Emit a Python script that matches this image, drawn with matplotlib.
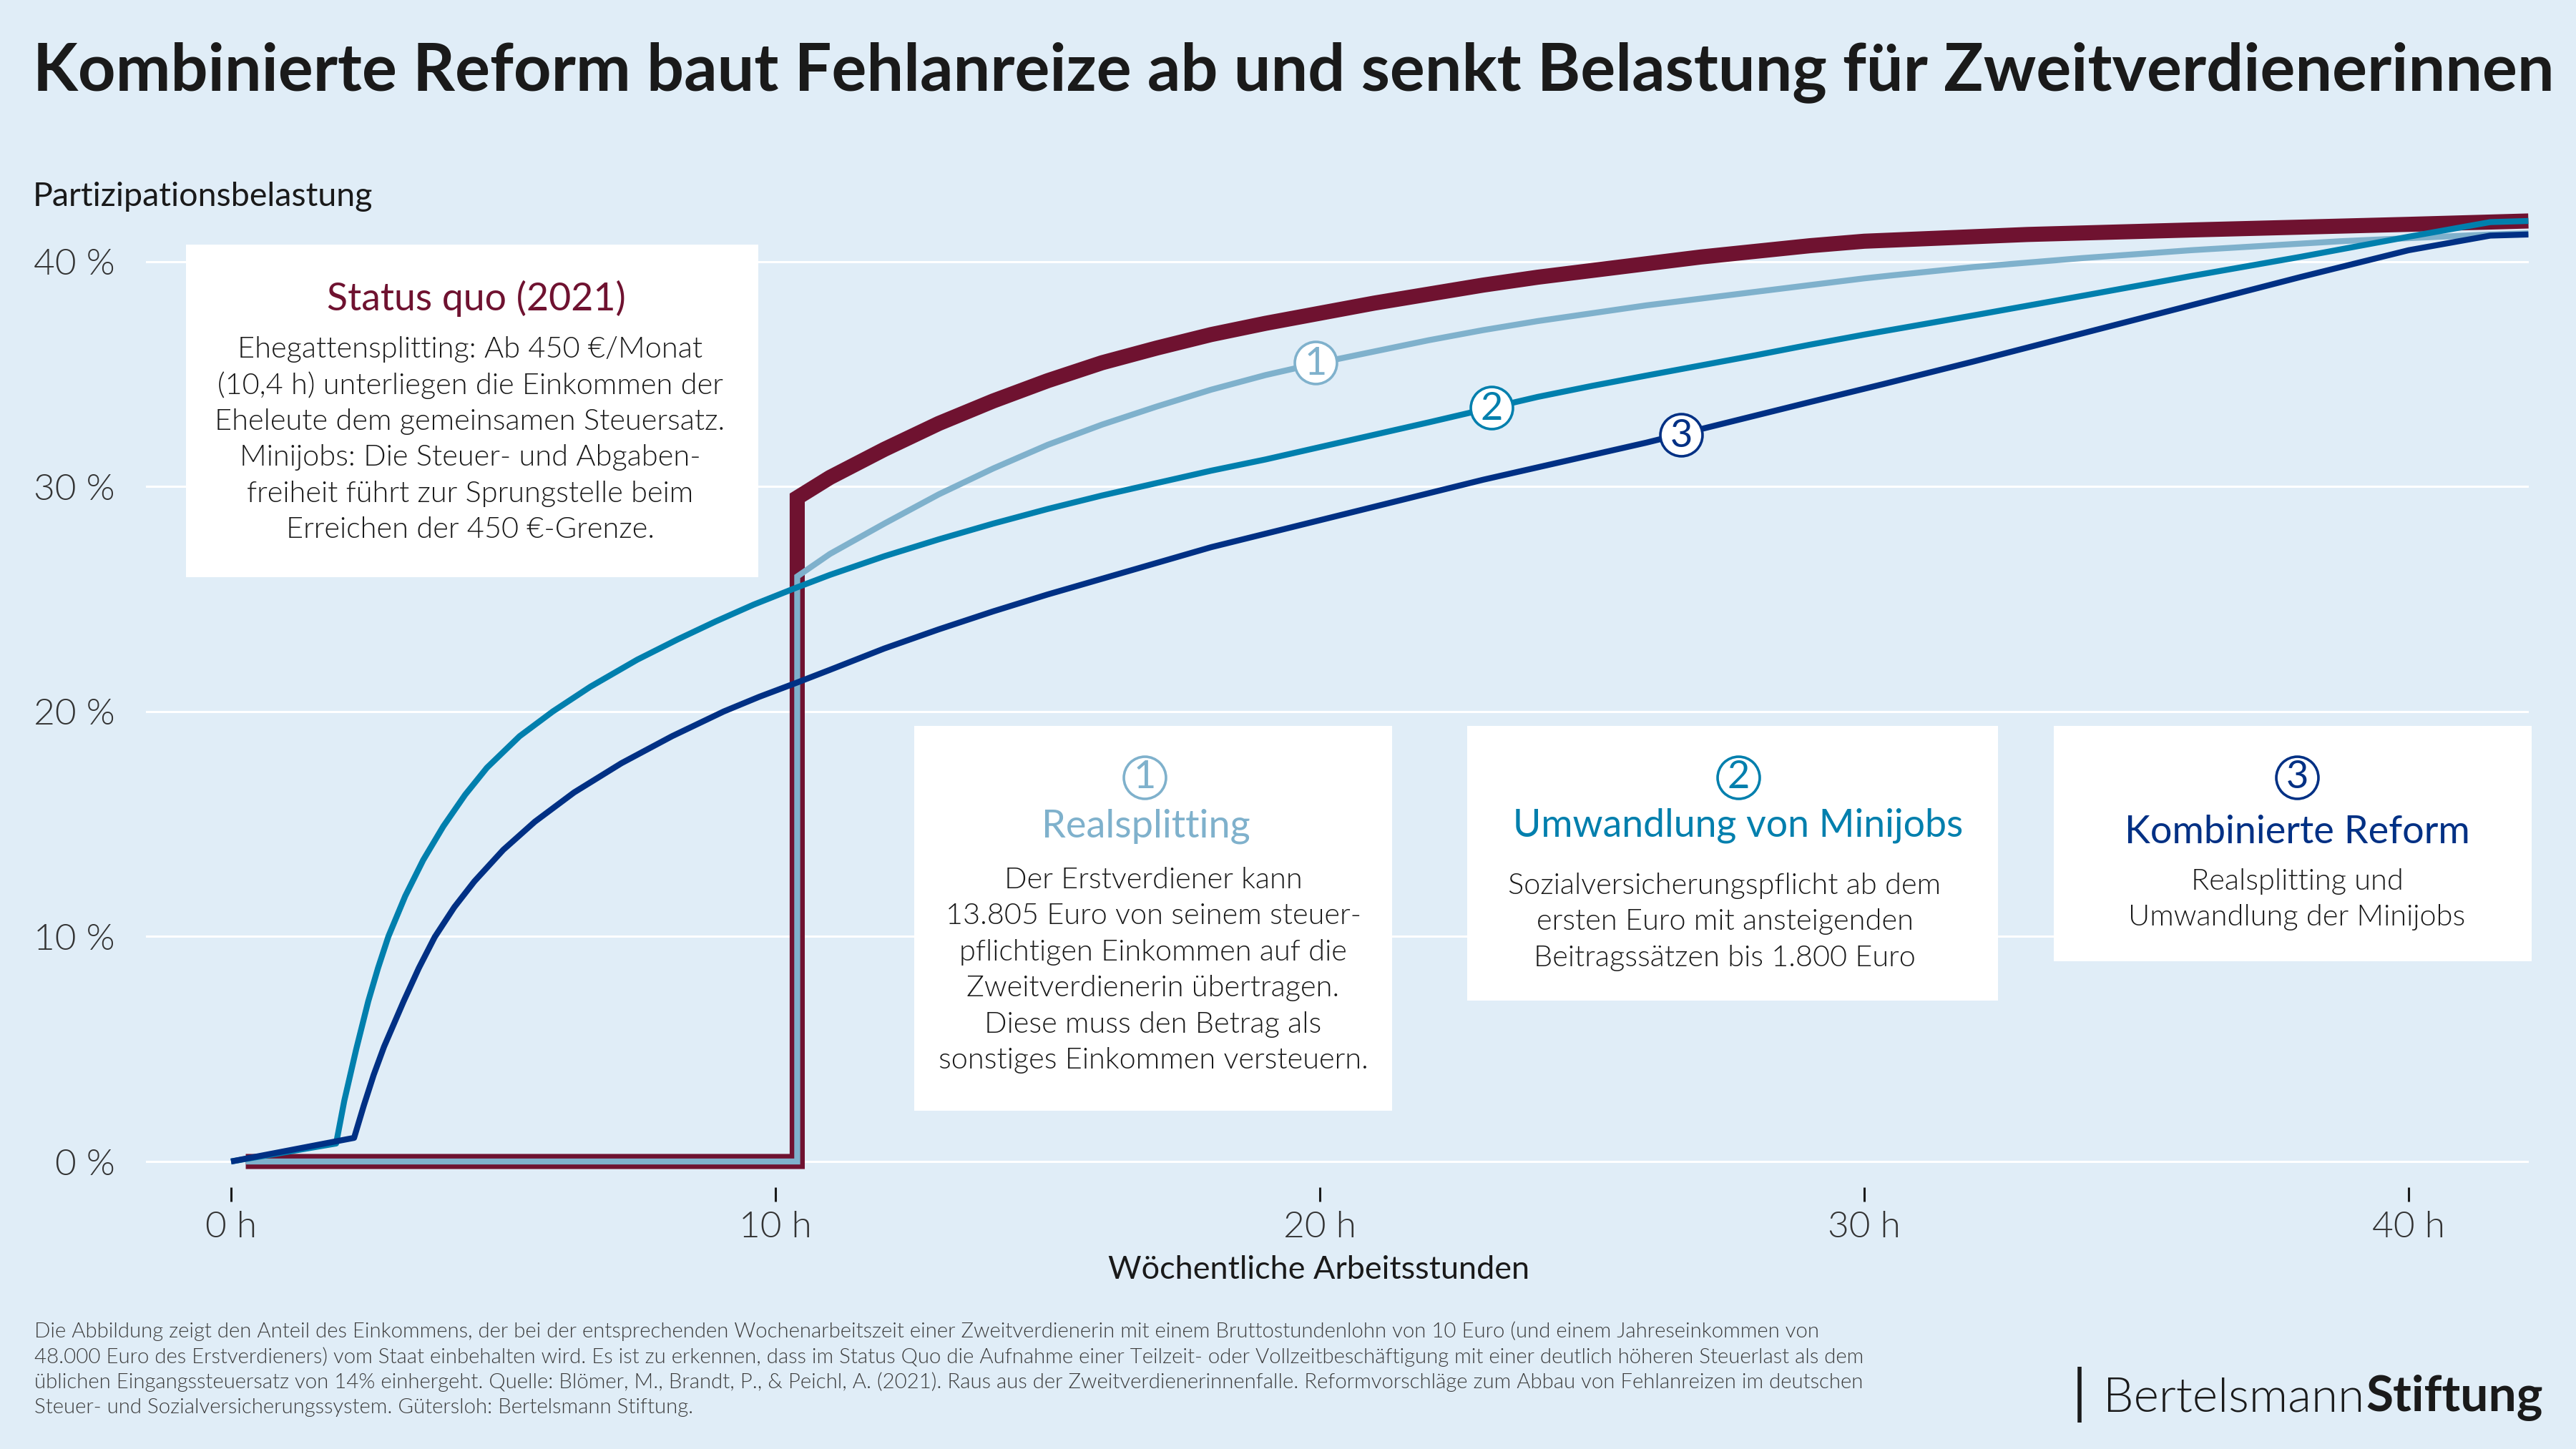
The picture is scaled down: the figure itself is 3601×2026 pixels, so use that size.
import matplotlib
matplotlib.use("Agg")
import matplotlib.pyplot as plt
from matplotlib.patches import Rectangle

plt.rcParams['font.family'] = ['Lato', 'DejaVu Sans']

BG = '#e0edf7'
MAROON = '#6f1230'
LIGHT = '#7fb1cc'
TEAL = '#007fad'
NAVY = '#003084'
DARK = '#1a1a1a'

# hours, percent
quo_x = [0.27, 10.4, 10.4, 11, 12, 13, 14, 15, 16, 17, 18, 19, 20, 21, 22, 23, 24, 25, 26, 27, 28, 29, 30, 31, 33, 36, 40, 42.2]
quo_y = [0.0, 0.0, 29.5, 30.4, 31.65, 32.8, 33.8, 34.7, 35.5, 36.15, 36.75, 37.25, 37.7, 38.15, 38.55, 38.95, 39.3, 39.6, 39.9, 40.2, 40.45, 40.7, 40.9, 41.0, 41.2, 41.4, 41.65, 41.8]

real_x = [0.27, 10.4, 10.4, 11, 12, 13, 14, 15, 16, 17, 18, 19, 20, 21, 22, 23, 24, 25, 26, 27, 28, 29, 30, 30.5, 32, 34, 36, 38.75, 41.5, 42.2]
real_y = [0.0, 0.0, 26.0, 27.0, 28.35, 29.65, 30.8, 31.85, 32.75, 33.55, 34.3, 34.95, 35.5, 36.0, 36.5, 36.95, 37.35, 37.7, 38.05, 38.35, 38.65, 38.95, 39.25, 39.38, 39.75, 40.15, 40.5, 40.9, 41.2, 41.25]

mini_x = [0.0, 1.93, 2.08, 2.3, 2.52, 2.7, 2.89, 3.2, 3.53, 3.9, 4.3, 4.7, 5.3, 5.91, 6.6, 7.46, 8.2, 8.9, 9.6, 10.38, 11, 12, 13, 14, 15, 16, 17, 18, 19, 20, 21, 22, 23.15, 24, 25, 26, 27, 28, 29, 30, 32, 34, 36, 38, 40, 41.5, 42.2]
mini_y = [0.0, 0.8, 2.7, 5.0, 7.12, 8.6, 10.0, 11.8, 13.4, 14.9, 16.3, 17.5, 18.9, 20.0, 21.1, 22.3, 23.2, 24.0, 24.75, 25.5, 26.07, 26.9, 27.65, 28.35, 29.0, 29.6, 30.15, 30.7, 31.2, 31.75, 32.3, 32.85, 33.5, 33.98, 34.47, 34.93, 35.38, 35.83, 36.3, 36.75, 37.6, 38.47, 39.35, 40.2, 41.1, 41.75, 41.8]

komb_x = [0.0, 2.26, 2.44, 2.62, 2.81, 3.17, 3.45, 3.74, 4.1, 4.47, 5, 5.58, 6.3, 7.17, 8.1, 9.05, 9.7, 10.38, 11, 12, 13, 14, 15, 16, 17, 18, 19, 20, 21, 22, 23, 24, 25, 26, 27, 28, 29, 30.35, 32, 34, 36, 38, 40, 41.5, 42.2]
komb_y = [0.0, 1.05, 2.5, 3.85, 5.1, 7.12, 8.6, 9.97, 11.3, 12.45, 13.85, 15.1, 16.4, 17.7, 18.9, 20.0, 20.65, 21.27, 21.85, 22.8, 23.65, 24.45, 25.2, 25.9, 26.6, 27.3, 27.9, 28.5, 29.1, 29.7, 30.3, 30.85, 31.4, 31.95, 32.55, 33.15, 33.75, 34.55, 35.55, 36.8, 38.05, 39.3, 40.5, 41.15, 41.2]

# badge positions on the lines: hours, percent
badge_x = [19.92, 23.15, 26.64]
badge_y = [35.5, 33.5, 32.3]
badge_labels = ['1', '2', '3']
badge_colors = [LIGHT, TEAL, NAVY]

x_ticks = [0, 10, 20, 30, 40]
x_labels = ['0 h', '10 h', '20 h', '30 h', '40 h']
y_ticks = [0, 10, 20, 30, 40]
y_labels = ['0 %', '10 %', '20 %', '30 %', '40 %']

title = 'Kombinierte Reform baut Fehlanreize ab und senkt Belastung für Zweitverdienerinnen'
status_lines = ['Ehegattensplitting: Ab 450 €/Monat',
                '(10,4 h) unterliegen die Einkommen der',
                'Eheleute dem gemeinsamen Steuersatz.',
                'Minijobs: Die Steuer- und Abgaben-',
                'freiheit führt zur Sprungstelle beim',
                'Erreichen der 450 €-Grenze.']
real_lines = ['Der Erstverdiener kann',
              '13.805 Euro von seinem steuer-',
              'pflichtigen Einkommen auf die',
              'Zweitverdienerin übertragen.',
              'Diese muss den Betrag als',
              'sonstiges Einkommen versteuern.']
mini_lines = ['Sozialversicherungspflicht ab dem',
              'ersten Euro mit ansteigenden',
              'Beitragssätzen bis 1.800 Euro']
komb_lines = ['Realsplitting und', 'Umwandlung der Minijobs']
foot_lines = ['Die Abbildung zeigt den Anteil des Einkommens, der bei der entsprechenden Wochenarbeitszeit einer Zweitverdienerin mit einem Bruttostundenlohn von 10 Euro (und einem Jahreseinkommen von',
              '48.000 Euro des Erstverdieners) vom Staat einbehalten wird. Es ist zu erkennen, dass im Status Quo die Aufnahme einer Teilzeit- oder Vollzeitbeschäftigung mit einer deutlich höheren Steuerlast als dem',
              'üblichen Eingangssteuersatz von 14% einhergeht. Quelle: Blömer, M., Brandt, P., & Peichl, A. (2021). Raus aus der Zweitverdienerinnenfalle. Reformvorschläge zum Abbau von Fehlanreizen im deutschen',
              'Steuer- und Sozialversicherungssystem. Gütersloh: Bertelsmann Stiftung.']

W, H = 3601, 2026
DPI = 200
fig = plt.figure(figsize=(W / DPI, H / DPI), dpi=DPI, facecolor=BG)

# main axes, placed in pixels: x0=323 px / 76.1 px per h, y0=1624 px / 31.46 px per %
left, right, top, bottom = 204, 3535, 280, 1660
ax = fig.add_axes([left / W, 1 - bottom / H, (right - left) / W, (bottom - top) / H])
ax.set_facecolor(BG)
ax.set_xlim((left - 323) / 76.1, (right - 323) / 76.1)
ax.set_ylim((1624 - bottom) / 31.46, (1624 - top) / 31.46)
for s in ax.spines.values():
    s.set_visible(False)
ax.set_xticks(x_ticks, x_labels, fontsize=18.5, fontweight=300, color='#333333')
ax.set_yticks(y_ticks, y_labels, fontsize=18.5, fontweight=300, color='#333333')
ax.tick_params(axis='x', length=7.2, width=1.1, color=DARK, pad=4.5)
ax.tick_params(axis='y', length=0, pad=15.5)
ax.grid(axis='y', color='white', linewidth=1.1)
ax.set_axisbelow(True)

ax.plot(quo_x, quo_y, color=MAROON, lw=7.6, solid_joinstyle='miter', solid_capstyle='butt', zorder=3)
ax.plot(real_x, real_y, color=LIGHT, lw=3.0, solid_joinstyle='miter', solid_capstyle='butt', zorder=4)
ax.plot(mini_x, mini_y, color=TEAL, lw=3.0, solid_joinstyle='round', solid_capstyle='butt', zorder=5)
ax.plot(komb_x, komb_y, color=NAVY, lw=3.0, solid_joinstyle='round', solid_capstyle='butt', zorder=6)

for bx, by, lab, col in zip(badge_x, badge_y, badge_labels, badge_colors):
    ax.scatter([bx], [by], s=450, facecolor='white', edgecolor=col, linewidth=1.3, zorder=7)
    ax.text(bx, by - 0.05, lab, color=col, fontsize=19.5, ha='center', va='center', zorder=8)

# overlay in image pixels for boxes and free text
ov = fig.add_axes([0, 0, 1, 1], facecolor='none')
ov.set_xlim(0, W)
ov.set_ylim(H, 0)
ov.axis('off')


def box(x0, y0, x1, y1):
    ov.add_patch(Rectangle((x0, y0), x1 - x0, y1 - y0, facecolor='white', edgecolor='none', zorder=1))


def block(lines, cx, y0, step=50.5, size=14.95):
    for i, line in enumerate(lines):
        ov.text(cx, y0 + i * step, line, ha='center', va='center', fontsize=size,
                fontweight=300, color=DARK, zorder=2)


def circle_num(cx, cy, lab, col):
    ov.scatter([cx], [cy], s=450, facecolor='white', edgecolor=col, linewidth=1.3, zorder=2)
    ov.text(cx, cy - 1, lab, color=col, fontsize=19.5, ha='center', va='center', zorder=3)


ov.text(46, 101, title, fontsize=33.05, fontweight='bold', color=DARK, va='center', ha='left')
ov.text(46, 275, 'Partizipationsbelastung', fontsize=16.8, color=DARK, va='center', ha='left')
ov.text(1844, 1775, 'Wöchentliche Arbeitsstunden', fontsize=16.2, color=DARK, va='center', ha='center')

box(260, 342, 1060, 807)
ov.text(666, 417, 'Status quo (2021)', fontsize=19.3, color=MAROON, va='center', ha='center', zorder=2)
block(status_lines, 657, 488)

box(1278, 1015, 1946, 1553)
circle_num(1600, 1087, '1', LIGHT)
ov.text(1602, 1155, 'Realsplitting', fontsize=19.5, color=LIGHT, va='center', ha='center', zorder=2)
block(real_lines, 1612, 1230)

box(2051, 1015, 2793, 1399)
circle_num(2430, 1087, '2', TEAL)
ov.text(2430, 1154, 'Umwandlung von Minijobs', fontsize=19.3, color=TEAL, va='center', ha='center', zorder=2)
block(mini_lines, 2411, 1238)

box(2871, 1015, 3539, 1344)
circle_num(3211, 1087, '3', NAVY)
ov.text(3211, 1163, 'Kombinierte Reform', fontsize=19.45, color=NAVY, va='center', ha='center', zorder=2)
block(komb_lines, 3211, 1232)

for i, line in enumerate(foot_lines):
    ov.text(48, 1861 + i * 35.7, line, fontsize=10.6, fontweight=300, color='#3c3c3c', va='center', ha='left')

# logo
ov.plot([2907, 2907], [1911, 1989], color=DARK, lw=2.0, solid_capstyle='butt')
ov.text(2940, 1973, 'Bertelsmann', fontsize=24.3, fontweight=300, color=DARK, va='baseline', ha='left')
ov.text(3307, 1973, 'Stiftung', fontsize=25, fontweight='bold', color=DARK, va='baseline', ha='left')
ov.set_xlim(0, W)
ov.set_ylim(H, 0)

fig.savefig('out.png', dpi=DPI, facecolor=BG)
